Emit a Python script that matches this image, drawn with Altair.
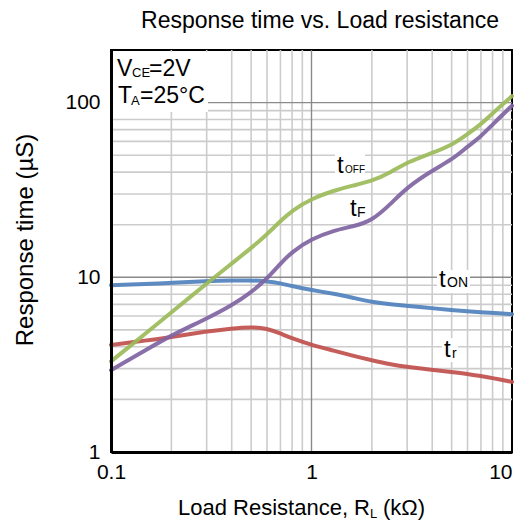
import altair as alt
import pandas as pd

FONT = "Arial, 'Liberation Sans', sans-serif"

# Load resistance (kOhm)
R = [0.1, 0.15, 0.2, 0.3, 0.4, 0.5, 0.6, 0.7, 0.8, 1.0, 1.3, 1.6, 2.0, 2.5,
     3.0, 4.0, 5.0, 6.0, 7.0, 8.0, 10.0]
# Response times (uS)
t_off = [3.3, 4.8, 6.3, 9.2, 12.0, 14.7, 17.6, 21.0, 24.1, 28.2, 31.4, 33.5,
         35.5, 40.0, 45.6, 51.5, 57.0, 66.0, 75.0, 87.0, 109.0]
t_f = [2.94, 3.85, 4.66, 5.8, 6.9, 8.2, 9.8, 12.0, 14.0, 16.6, 18.6, 19.5,
       21.0, 26.5, 32.8, 40.9, 47.0, 56.0, 64.0, 75.0, 96.0]
t_on = [9.0, 9.15, 9.3, 9.5, 9.6, 9.6, 9.5, 9.25, 8.9, 8.45, 8.05, 7.65,
        7.22, 7.0, 6.87, 6.65, 6.5, 6.4, 6.3, 6.25, 6.15]
t_r = [4.1, 4.35, 4.55, 4.9, 5.1, 5.2, 5.1, 4.77, 4.47, 4.1, 3.8, 3.56,
       3.35, 3.17, 3.07, 2.95, 2.87, 2.8, 2.72, 2.65, 2.52]

series_names = ["t_r", "t_ON", "t_F", "t_OFF"]
series_colors = ["#c0504d", "#4f81bd", "#8064a2", "#9bbb59"]
series_values = [t_r, t_on, t_f, t_off]

x_ticks = [0.1, 1, 10]
y_ticks = [1, 10, 100]
x_minor = [0.2, 0.3, 0.4, 0.5, 0.6, 0.7, 0.8, 0.9, 2, 3, 4, 5, 6, 7, 8, 9]
y_minor = [2, 3, 4, 5, 6, 7, 8, 9, 20, 30, 40, 50, 60, 70, 80, 90]
x_major = [1]
y_major = [10, 100]

rows = []
for name, vals in zip(series_names, series_values):
    for r, v in zip(R, vals):
        rows.append({"R": r, "t": v, "series": name})
df = pd.DataFrame(rows)

x_scale = alt.Scale(type="log", domain=[0.1, 10])
y_scale = alt.Scale(type="log", domain=[1, 200])

x_axis = alt.Axis(values=x_ticks, format="~g", title=None, grid=False,
                  ticks=False, labelFontSize=21, labelFont=FONT,
                  labelColor="black", labelPadding=9, labelFlush=False,
                  labelAlign={"condition": {"test": "datum.value >= 10",
                                            "value": "right"},
                              "value": "center"},
                  domainColor="black", domainWidth=3, zindex=1)
y_axis = alt.Axis(values=y_ticks, format="~g", title=None, grid=False,
                  ticks=False, labelFontSize=21, labelFont=FONT,
                  labelColor="black", labelPadding=11,
                  domainColor="black", domainWidth=3, zindex=1)

one = pd.DataFrame({"k": [0]})

grid_xm = alt.Chart(pd.DataFrame({"R": x_minor})).mark_rule(
    color="#cccccc", strokeWidth=1.6).encode(
    x=alt.X("R:Q", scale=x_scale, axis=x_axis))
grid_ym = alt.Chart(pd.DataFrame({"t": y_minor})).mark_rule(
    color="#cccccc", strokeWidth=1.6).encode(
    y=alt.Y("t:Q", scale=y_scale, axis=y_axis))
grid_xM = alt.Chart(pd.DataFrame({"R": x_major})).mark_rule(
    color="#8a8a8a", strokeWidth=1.4).encode(
    x=alt.X("R:Q", scale=x_scale, axis=x_axis))
grid_yM = alt.Chart(pd.DataFrame({"t": y_major})).mark_rule(
    color="#8a8a8a", strokeWidth=1.4).encode(
    y=alt.Y("t:Q", scale=y_scale, axis=y_axis))


def box(x1, y1, x2, y2):
    return alt.Chart(one).mark_rect(color="white").encode(
        x=alt.value(x1), x2=alt.value(x2), y=alt.value(y1), y2=alt.value(y2))


def txt(s, x, y, size, align="left", baseline="alphabetic", angle=0):
    return alt.Chart(one).mark_text(
        text=s, fontSize=size, align=align, baseline=baseline, angle=angle,
        font=FONT, color="black").encode(x=alt.value(x), y=alt.value(y))


boxes = [
    box(2, 2, 97, 62),
    box(224, 100, 254, 126),
    box(238, 145, 257, 173),
    box(326, 220, 359, 243),
    box(331, 288, 347, 312),
]

lines = alt.Chart(df).mark_line(
    strokeWidth=4, interpolate="basis", strokeCap="round", opacity=0.92
).encode(
    x=alt.X("R:Q", scale=x_scale, axis=x_axis),
    y=alt.Y("t:Q", scale=y_scale, axis=y_axis),
    color=alt.Color("series:N", scale=alt.Scale(domain=series_names,
                                                range=series_colors),
                    legend=None),
)

texts = [
    # chart title
    txt("Response time vs. Load resistance", 209, -22, 23, align="center"),
    # axis titles
    txt("Response time (µS)", -85, 190, 24, align="center",
        baseline="middle", angle=270),
    txt("Load Resistance, R", 67, 465, 22),
    txt("L", 259, 468, 13),
    txt("(kΩ)", 272, 465, 22),
    # conditions
    txt("V", 6, 26, 23),
    txt("CE", 21, 27, 13),
    txt("=2V", 38, 26, 23),
    txt("T", 7, 53, 23),
    txt("A", 20, 55, 13),
    txt("=25°C", 29, 53, 23),
    # curve labels
    txt("t", 226, 123, 24),
    txt("OFF", 234, 123, 10),
    txt("t", 239, 166, 24),
    txt("F", 246, 167, 14),
    txt("t", 328, 237, 24),
    txt("ON", 336, 237, 14),
    txt("t", 333, 307, 24),
    txt("r", 341, 308, 14),
]

chart = alt.layer(
    grid_xm, grid_ym, grid_xM, grid_yM, *boxes, lines, *texts
).properties(
    width=401, height=402,
    padding={"left": 103, "top": 42, "right": 10, "bottom": 73},
    autosize=alt.AutoSizeParams(type="none"),
).configure_view(stroke="black", strokeWidth=2)

chart.save("out.html", embed_options={"renderer": "svg", "actions": False})
